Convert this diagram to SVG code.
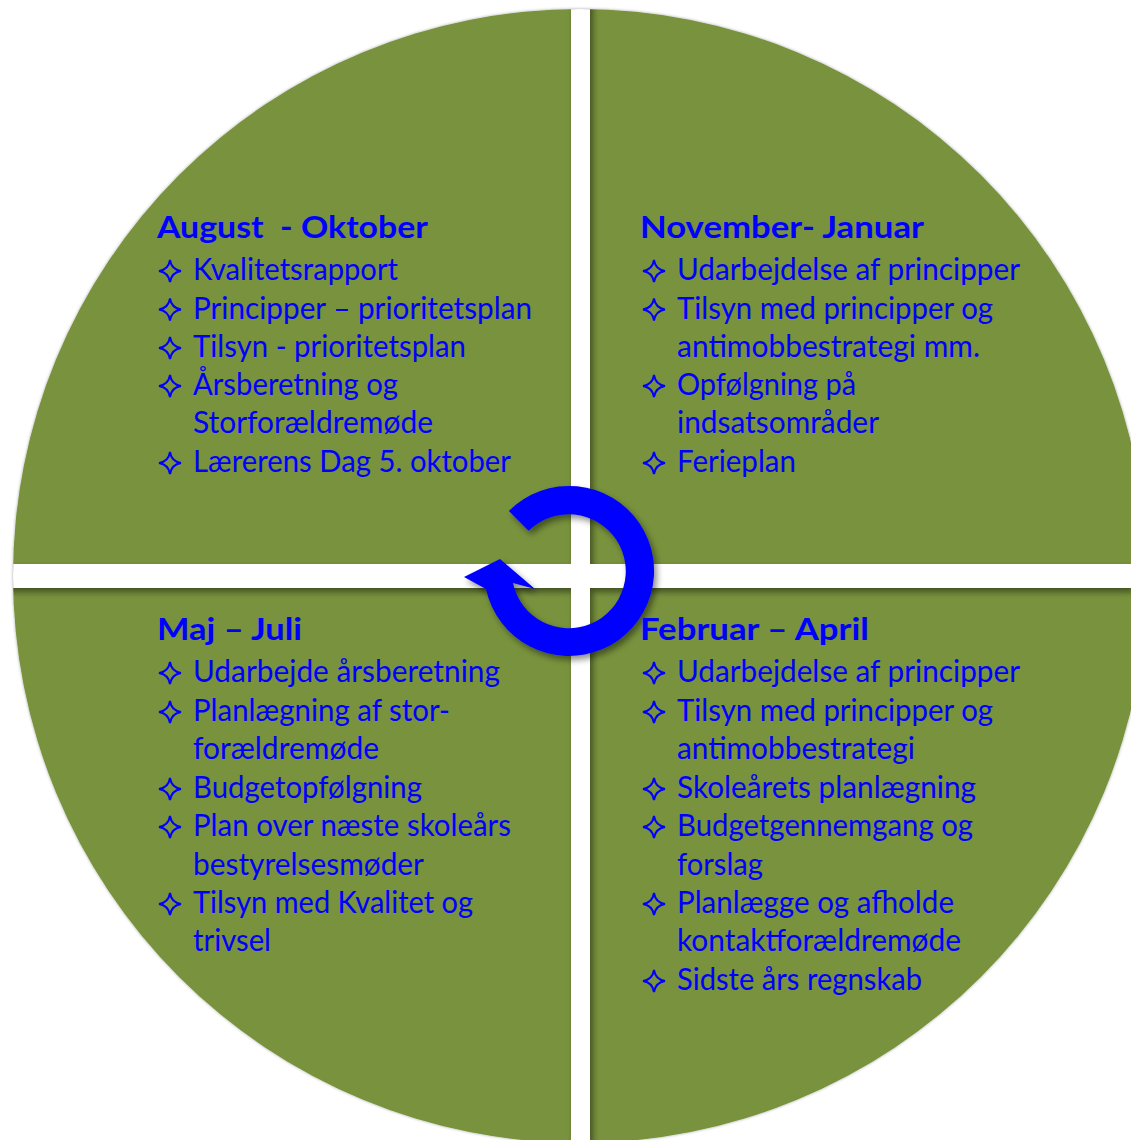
<svg xmlns="http://www.w3.org/2000/svg" width="1131" height="1140" viewBox="0 0 1131 1140">
<defs>
<style>
.h{font-family:Lato,"Open Sans","Liberation Sans",sans-serif;font-weight:bold;font-size:31px;fill:#0000FF}
.t{font-family:Lato,"Open Sans","Liberation Sans",sans-serif;font-size:30px;fill:#0000FF}
</style>
<clipPath id="cc"><circle cx="580" cy="576" r="567"/></clipPath>
<filter id="sh" x="-10%" y="-10%" width="120%" height="120%">
<feGaussianBlur in="SourceAlpha" stdDeviation="3"/>
<feOffset dx="3" dy="4" result="b"/>
<feFlood flood-color="#000" flood-opacity="0.45"/>
<feComposite in2="b" operator="in"/>
<feMerge><feMergeNode/><feMergeNode in="SourceGraphic"/></feMerge>
</filter>
<filter id="csh" x="-5%" y="-5%" width="110%" height="110%">
<feGaussianBlur in="SourceAlpha" stdDeviation="1.5"/>
<feOffset dx="0" dy="0" result="b"/>
<feFlood flood-color="#000" flood-opacity="0.35"/>
<feComposite in2="b" operator="in"/>
<feMerge><feMergeNode/><feMergeNode in="SourceGraphic"/></feMerge>
</filter>
<path id="star" d="M0,-11 Q1.5,-1.5 11,0 Q1.5,1.5 0,11 Q-1.5,1.5 -11,0 Q-1.5,-1.5 0,-11Z" fill="none" stroke="#0000FF" stroke-width="2"/>
</defs>
<rect width="1131" height="1140" fill="#fff"/>
<g id="wheel">
<circle cx="580" cy="576" r="567" fill="#78923D" filter="url(#csh)"/>
<g clip-path="url(#cc)">
<g filter="url(#sh)">
<rect x="571" y="0" width="19" height="1140" fill="#fff"/>
<rect x="0" y="564" width="1131" height="24" fill="#fff"/>
</g>
</g>
</g>
<g id="connectors">
<path filter="url(#sh)" fill="#0000FF" d="M508.9,510.9 A85,85 0 1 1 486,589 L464,577 L500,559 L535,589 L513,583 A57,57 0 1 0 528.7,530.7 Z"/>
</g>
<g id="q-aug-okt">
<text class="h" x="157" y="238" textLength="271" lengthAdjust="spacingAndGlyphs" xml:space="preserve">August  - Oktober</text>
<use href="#star" x="170" y="271"/><text class="t" x="193" y="280" textLength="205" lengthAdjust="spacingAndGlyphs">Kvalitetsrapport</text>
<use href="#star" x="170" y="309.5"/><text class="t" x="193" y="318.5" textLength="339" lengthAdjust="spacingAndGlyphs">Principper – prioritetsplan</text>
<use href="#star" x="170" y="348"/><text class="t" x="193" y="357" textLength="273" lengthAdjust="spacingAndGlyphs">Tilsyn - prioritetsplan</text>
<use href="#star" x="170" y="386"/><text class="t" x="193" y="395" textLength="205" lengthAdjust="spacingAndGlyphs">Årsberetning og</text>
<text class="t" x="193" y="433" textLength="240" lengthAdjust="spacingAndGlyphs">Storforældremøde</text>
<use href="#star" x="170" y="463"/><text class="t" x="193" y="472" textLength="318" lengthAdjust="spacingAndGlyphs">Lærerens Dag 5. oktober</text>
</g>
<g id="q-nov-jan">
<text class="h" x="640" y="238" textLength="284" lengthAdjust="spacingAndGlyphs">November- Januar</text>
<use href="#star" x="654" y="271"/><text class="t" x="677" y="280" textLength="343" lengthAdjust="spacingAndGlyphs">Udarbejdelse af principper</text>
<use href="#star" x="654" y="309.5"/><text class="t" x="677" y="318.5" textLength="316" lengthAdjust="spacingAndGlyphs">Tilsyn med principper og</text>
<text class="t" x="677" y="357" textLength="303" lengthAdjust="spacingAndGlyphs">antimobbestrategi mm.</text>
<use href="#star" x="654" y="386"/><text class="t" x="677" y="395" textLength="179" lengthAdjust="spacingAndGlyphs">Opfølgning på</text>
<text class="t" x="677" y="433" textLength="202" lengthAdjust="spacingAndGlyphs">indsatsområder</text>
<use href="#star" x="654" y="463"/><text class="t" x="677" y="472" textLength="119" lengthAdjust="spacingAndGlyphs">Ferieplan</text>
</g>
<g id="q-maj-jul">
<text class="h" x="157" y="640" textLength="145" lengthAdjust="spacingAndGlyphs">Maj – Juli</text>
<use href="#star" x="170" y="673"/><text class="t" x="193" y="682" textLength="307" lengthAdjust="spacingAndGlyphs">Udarbejde årsberetning</text>
<use href="#star" x="170" y="712"/><text class="t" x="193" y="721" textLength="257" lengthAdjust="spacingAndGlyphs">Planlægning af stor-</text>
<text class="t" x="193" y="759" textLength="186" lengthAdjust="spacingAndGlyphs">forældremøde</text>
<use href="#star" x="170" y="789"/><text class="t" x="193" y="798" textLength="229" lengthAdjust="spacingAndGlyphs">Budgetopfølgning</text>
<use href="#star" x="170" y="827"/><text class="t" x="193" y="836" textLength="318" lengthAdjust="spacingAndGlyphs">Plan over næste skoleårs</text>
<text class="t" x="193" y="875" textLength="231" lengthAdjust="spacingAndGlyphs">bestyrelsesmøder</text>
<use href="#star" x="170" y="904"/><text class="t" x="193" y="913" textLength="280" lengthAdjust="spacingAndGlyphs">Tilsyn med Kvalitet og</text>
<text class="t" x="193" y="951" textLength="78" lengthAdjust="spacingAndGlyphs">trivsel</text>
</g>
<g id="q-feb-apr">
<text class="h" x="640" y="640" textLength="229" lengthAdjust="spacingAndGlyphs">Februar – April</text>
<use href="#star" x="654" y="673"/><text class="t" x="677" y="682" textLength="343" lengthAdjust="spacingAndGlyphs">Udarbejdelse af principper</text>
<use href="#star" x="654" y="712"/><text class="t" x="677" y="721" textLength="316" lengthAdjust="spacingAndGlyphs">Tilsyn med principper og</text>
<text class="t" x="677" y="759" textLength="238" lengthAdjust="spacingAndGlyphs">antimobbestrategi</text>
<use href="#star" x="654" y="789"/><text class="t" x="677" y="798" textLength="299" lengthAdjust="spacingAndGlyphs">Skoleårets planlægning</text>
<use href="#star" x="654" y="827"/><text class="t" x="677" y="836" textLength="296" lengthAdjust="spacingAndGlyphs">Budgetgennemgang og</text>
<text class="t" x="677" y="875" textLength="86" lengthAdjust="spacingAndGlyphs">forslag</text>
<use href="#star" x="654" y="904"/><text class="t" x="677" y="913" textLength="277" lengthAdjust="spacingAndGlyphs">Planlægge og afholde</text>
<text class="t" x="677" y="951" textLength="284" lengthAdjust="spacingAndGlyphs">kontaktforældremøde</text>
<use href="#star" x="654" y="981"/><text class="t" x="677" y="990" textLength="245" lengthAdjust="spacingAndGlyphs">Sidste års regnskab</text>
</g>
</svg>
